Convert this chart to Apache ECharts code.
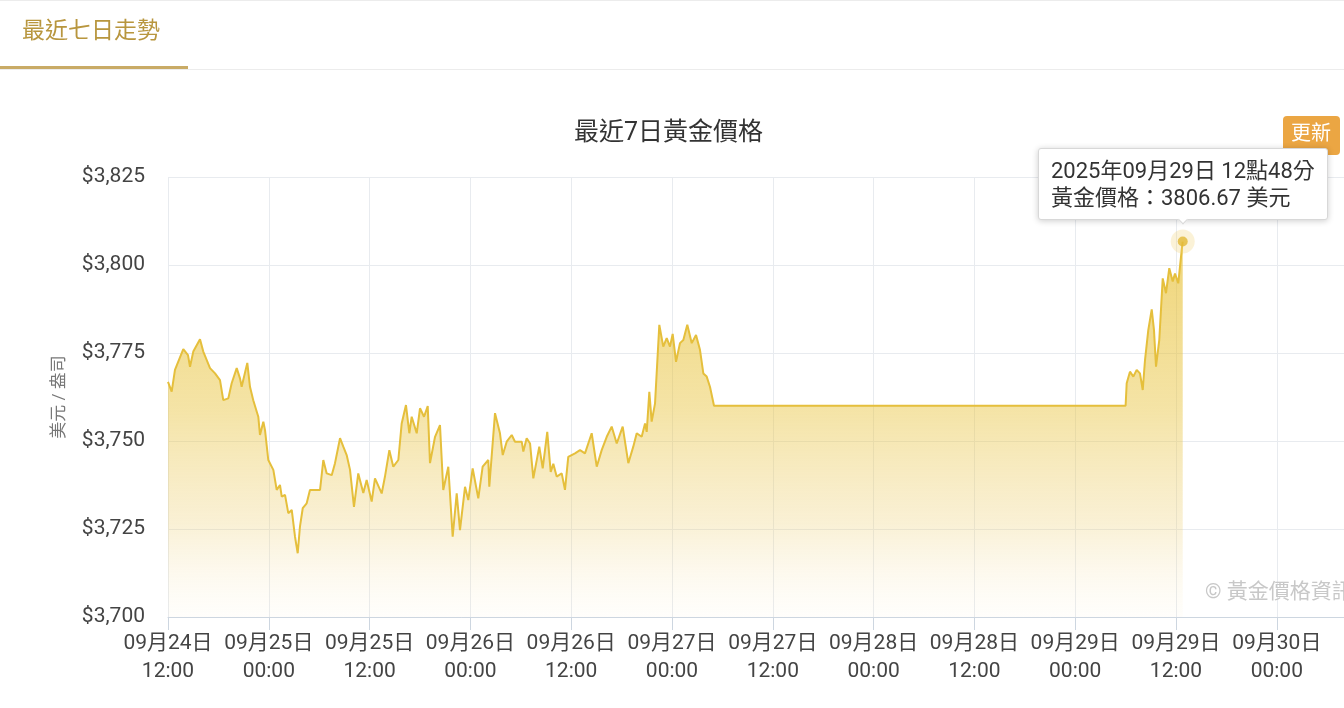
<!DOCTYPE html>
<html>
<head>
<meta charset="utf-8">
<script src="https://cdn.jsdelivr.net/npm/echarts@6/dist/echarts.min.js"></script>
<style>
html,body{margin:0;padding:0;background:#fff;}
#chart{width:1344px;height:708px;}
</style>
</head>
<body>
<div id="chart"></div>
<script>
// hours since 2025-09-24 00:00 (Taipei)
var hours = [12.00,12.44,12.83,13.82,14.38,14.62,15.01,15.81,16.20,17.00,
17.60,18.19,18.58,19.18,19.58,20.18,20.57,20.77,21.44,21.76,
22.15,22.75,22.95,23.35,23.55,23.94,24.54,24.94,25.33,25.54,
25.93,26.32,26.73,27.12,27.44,27.71,28.04,28.51,28.90,30.10,
30.49,30.89,31.49,31.88,32.48,32.87,33.27,33.67,34.14,34.65,
35.25,35.65,36.25,36.64,37.44,37.83,38.35,38.82,39.42,39.82,
40.33,40.73,41.01,41.61,42.00,42.48,42.92,43.19,43.79,44.38,
44.77,45.37,45.89,46.37,46.76,47.36,47.75,48.27,48.94,49.46,
50.13,50.25,50.93,51.52,51.85,52.32,52.92,53.31,54.11,54.30,
54.70,55.10,55.49,56.20,56.61,57.15,57.56,57.87,58.27,58.87,
59.26,59.65,60.45,61.05,61.64,62.44,63.04,63.63,64.23,64.82,
65.42,66.13,66.80,67.39,67.80,68.39,68.79,68.99,69.30,69.58,
69.98,70.49,70.96,71.37,71.76,72.08,72.48,72.95,73.35,73.82,
74.35,74.86,75.33,75.73,76.13,76.52,77.00,
126.00,126.13,126.52,126.92,127.32,127.71,128.04,128.31,128.70,129.11,
129.38,129.62,130.01,130.42,130.81,131.20,131.61,131.88,132.27,132.68,
132.80];
var prices = [3766.8,3764.0,3770.2,3776.1,3774.4,3771.1,3775.4,3778.9,3775.4,3770.7,
3769.2,3767.3,3761.6,3762.1,3766.4,3770.7,3767.8,3765.4,3772.2,3765.4,
3761.6,3756.9,3751.7,3755.5,3753.1,3744.6,3741.8,3736.1,3737.5,3734.2,
3734.7,3729.5,3730.4,3722.8,3718.1,3725.7,3730.9,3732.3,3736.1,3736.1,
3744.6,3740.8,3740.3,3743.7,3750.8,3748.4,3746.0,3741.8,3731.3,3740.8,
3735.2,3738.9,3732.8,3739.4,3735.1,3739.9,3747.4,3742.7,3744.6,3755.0,
3760.2,3752.2,3756.9,3752.2,3759.3,3756.9,3759.9,3743.7,3751.2,3754.5,
3736.1,3742.7,3722.8,3735.1,3724.7,3737.0,3733.2,3742.2,3733.7,3742.7,
3744.6,3737.0,3757.9,3752.2,3746.0,3749.8,3751.7,3749.8,3749.8,3747.0,
3750.8,3749.3,3739.4,3748.4,3742.2,3752.6,3741.2,3743.5,3739.9,3740.8,
3736.1,3745.5,3746.5,3747.4,3746.5,3752.2,3742.7,3747.4,3751.2,3754.1,
3749.3,3754.1,3743.7,3748.4,3752.2,3751.2,3755.0,3752.6,3764.0,3755.5,
3760.7,3783.0,3776.8,3779.2,3776.8,3780.4,3772.5,3777.8,3778.7,3783.0,
3777.8,3780.1,3775.9,3769.2,3768.3,3765.4,3760.0,
3760.0,3766.4,3769.7,3768.3,3770.2,3769.2,3764.5,3773.0,3781.5,3787.4,
3781.5,3771.1,3778.7,3796.2,3792.0,3799.1,3795.3,3797.6,3794.8,3804.3,
3806.67];
var yTicks = [3700, 3725, 3750, 3775, 3800, 3825];
var baseDay = 24;

var FONT = "Roboto, 'Noto Sans CJK TC', 'Noto Sans', sans-serif";
var series = hours.map(function (h, i) { return [h, prices[i]]; });
var lastIdx = hours.length - 1;
var lastPt = [hours[lastIdx], prices[lastIdx]];

function pad(n) { return (n < 10 ? '0' : '') + n; }

var chart = echarts.init(document.getElementById('chart'), null, {renderer: 'canvas'});
chart.setOption({
  animation: false,
  textStyle: {fontFamily: FONT},
  title: {
    text: '最近7日黃金價格',
    left: 569, top: 116,
    textStyle: {fontSize: 25, fontWeight: 'normal', color: '#333', fontFamily: FONT}
  },
  grid: {left: 168, right: 0, top: 177, bottom: 91},
  graphic: [
    {type: 'rect', shape: {x: 0, y: 0, width: 1344, height: 1}, style: {fill: '#ececec'}, silent: true},
    {type: 'rect', shape: {x: 0, y: 69, width: 1344, height: 1}, style: {fill: '#ececec'}, silent: true},
    {type: 'rect', shape: {x: 0, y: 66, width: 188, height: 3}, style: {fill: '#c9ab66'}, silent: true},
    {type: 'text', x: 22, y: 21, style: {text: '最近七日走勢', fontSize: 23, fill: '#b8963e', fontFamily: FONT}, silent: true},
    {type: 'rect', shape: {x: 1283, y: 116, width: 57, height: 39, r: 4}, style: {fill: '#eba643'}, silent: true},
    {type: 'text', x: 1311, y: 135, style: {text: '更新', fontSize: 20, fill: '#fff', align: 'center', verticalAlign: 'middle', fontFamily: FONT}, silent: true},
    {type: 'text', x: 1205, y: 593, z: 1, style: {text: '© 黃金價格資訊', fontSize: 21, fill: '#c8c8c8', verticalAlign: 'middle', fontFamily: FONT}, silent: true}
  ],
  tooltip: {
    trigger: 'item',
    alwaysShowContent: true,
    transitionDuration: 0,
    showDelay: 0,
    position: 'top',
    backgroundColor: '#fff',
    borderColor: '#d8d8d8',
    borderWidth: 1,
    padding: [8, 12],
    extraCssText: 'box-shadow:0 1px 6px rgba(0,0,0,0.2);border-radius:3px;',
    textStyle: {fontSize: 22, color: '#333', fontFamily: FONT},
    formatter: function (p) {
      var h = p.value[0];
      var day = baseDay + Math.floor(h / 24);
      var rem = h - Math.floor(h / 24) * 24;
      var hh = Math.floor(rem + 1e-6);
      var mm = Math.round((rem - hh) * 60);
      return '<div style="line-height:27px">2025年09月' + pad(day) + '日 ' + pad(hh) + '點' + pad(mm) + '分<br/>黃金價格：' + p.value[1].toFixed(2) + ' 美元</div>';
    }
  },
  xAxis: {
    type: 'value',
    min: 12, max: 152, interval: 12,
    axisLine: {show: true, lineStyle: {color: '#cdd6e0', width: 1}},
    axisTick: {show: true, length: 13, lineStyle: {color: '#cdd6e0'}},
    splitLine: {show: true, lineStyle: {color: '#e8ebef'}},
    axisLabel: {
      showMaxLabel: false,
      margin: 13,
      fontSize: 21,
      lineHeight: 28,
      color: '#444',
      fontFamily: FONT,
      formatter: function (v) {
        if (Math.abs(v % 12) > 1e-6) return '';
        var day = baseDay + Math.floor(v / 24);
        var hh = v % 24;
        return '09月' + pad(day) + '日\n' + pad(hh) + ':00';
      }
    }
  },
  yAxis: {
    type: 'value',
    min: yTicks[0], max: yTicks[yTicks.length - 1], interval: 25,
    name: '美元 / 盎司',
    nameLocation: 'middle',
    nameRotate: 90,
    nameGap: 100,
    nameTextStyle: {fontSize: 17, color: '#777', fontFamily: FONT},
    axisLine: {show: false},
    axisTick: {show: false},
    splitLine: {show: true, lineStyle: {color: '#e8ebef'}},
    axisLabel: {
      margin: 23, fontSize: 21, color: '#444', fontFamily: FONT,
      formatter: function (v) { return '$' + v.toLocaleString('en-US'); }
    }
  },
  series: [
    {
      type: 'line',
      data: series,
      showSymbol: false,
      symbol: 'none',
      silent: true,
      z: 2,
      lineStyle: {color: '#e5bf3c', width: 2},
      areaStyle: {
        color: new echarts.graphic.LinearGradient(0, 0, 0, 1, [
          {offset: 0, color: 'rgba(230,188,40,0.9)'},
          {offset: 0.45, color: 'rgba(232,195,60,0.65)'},
          {offset: 0.75, color: 'rgba(236,205,110,0.42)'},
          {offset: 1, color: 'rgba(250,235,200,0.1)'}
        ])
      },
      tooltip: {show: false}
    },
    {
      type: 'scatter',
      data: [lastPt],
      symbolSize: 24,
      z: 3,
      itemStyle: {color: 'rgba(240,210,110,0.35)'}
    },
    {
      type: 'scatter',
      data: [lastPt],
      symbolSize: 10,
      z: 4,
      silent: true,
      itemStyle: {color: '#e2b935'},
      tooltip: {show: false}
    }
  ]
});
setTimeout(function () {
  chart.dispatchAction({type: 'showTip', seriesIndex: 1, dataIndex: 0});
}, 50);
</script>
</body>
</html>
